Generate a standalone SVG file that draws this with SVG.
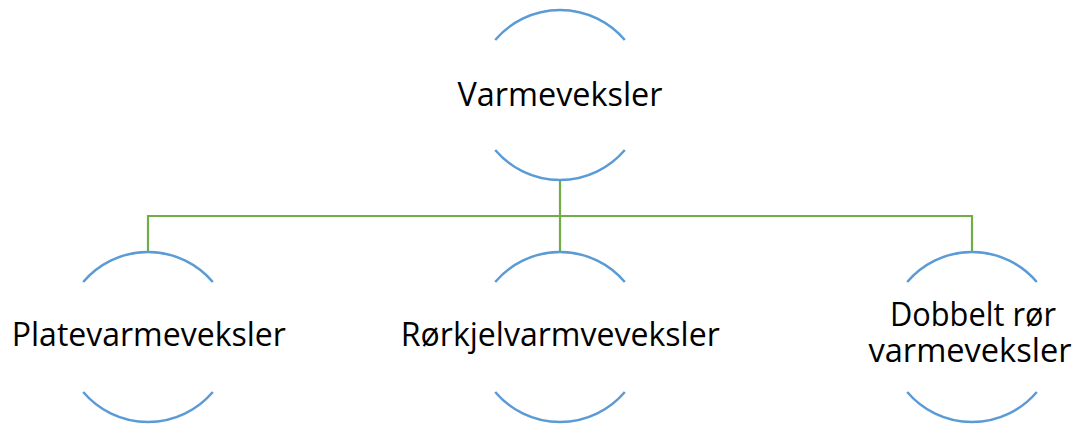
<svg xmlns="http://www.w3.org/2000/svg" width="1077" height="426" viewBox="0 0 1077 426">
<style>
.arc{fill:none;stroke:#5B9BD5;stroke-width:2.5}
.conn{fill:none;stroke:#70AD47;stroke-width:2.2}
.lbl{font-family:"Open Sans","Noto Sans","Liberation Sans",sans-serif;font-size:32px;fill:#000;text-anchor:middle}
</style>
<rect width="1077" height="426" fill="#fff"/>
<g id="connectors">
<path class="conn" d="M560 180 V216"/>
<path class="conn" d="M148 252 V216 H972 V252"/>
<path class="conn" d="M560 216 V252"/>
</g>
<g id="node-varmeveksler">
<path class="arc" d="M495.2 40 A85 85 0 0 1 624.8 40"/>
<path class="arc" d="M495.2 150 A85 85 0 0 0 624.8 150"/>
<text class="lbl" x="560" y="106" textLength="205" lengthAdjust="spacingAndGlyphs">Varmeveksler</text>
</g>
<g id="node-plate">
<path class="arc" d="M83.2 282 A85 85 0 0 1 212.8 282"/>
<path class="arc" d="M83.2 392 A85 85 0 0 0 212.8 392"/>
<text class="lbl" x="148.8" y="346" textLength="274" lengthAdjust="spacingAndGlyphs">Platevarmeveksler</text>
</g>
<g id="node-rorkjel">
<path class="arc" d="M495.2 282 A85 85 0 0 1 624.8 282"/>
<path class="arc" d="M495.2 392 A85 85 0 0 0 624.8 392"/>
<text class="lbl" x="560.3" y="346" textLength="319" lengthAdjust="spacingAndGlyphs">Rørkjelvarmveveksler</text>
</g>
<g id="node-dobbelt">
<path class="arc" d="M907.2 282 A85 85 0 0 1 1036.8 282"/>
<path class="arc" d="M907.2 392 A85 85 0 0 0 1036.8 392"/>
<text class="lbl"><tspan x="973" y="326" textLength="166" lengthAdjust="spacingAndGlyphs">Dobbelt rør</tspan><tspan x="970" y="361.7" textLength="203" lengthAdjust="spacingAndGlyphs">varmeveksler</tspan></text>
</g>
</svg>
